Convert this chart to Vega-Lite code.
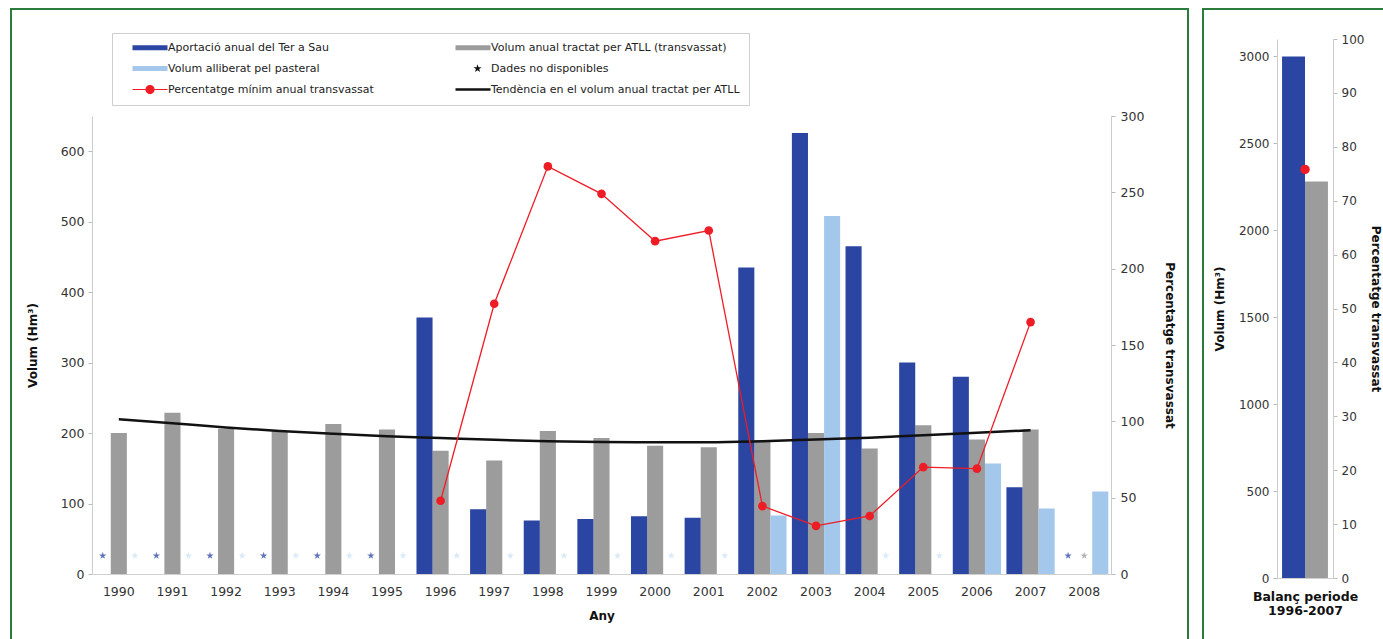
{
  "$schema": "https://vega.github.io/schema/vega-lite/v6.json",
  "padding": {"left": 10, "top": 8, "right": 0, "bottom": 0},
  "background": "white",
  "config": {
    "font": "DejaVu Sans",
    "view": {"stroke": "#2b7b3d", "strokeWidth": 2, "fill": "white"},
    "axis": {
      "labelFont": "DejaVu Sans",
      "labelFontSize": 12.5,
      "labelColor": "#333333",
      "titleFont": "DejaVu Sans",
      "titleFontWeight": "bold",
      "titleFontSize": 12,
      "titleColor": "#111111",
      "domainColor": "#cccccc",
      "tickColor": "#bbbbbb",
      "tickSize": 4,
      "grid": false
    }
  },
  "datasets": {
    "anual": [
      {"any": "1990", "serie": "Volum anual tractat per ATLL (transvassat)", "volum": 200},
      {"any": "1991", "serie": "Volum anual tractat per ATLL (transvassat)", "volum": 229},
      {"any": "1992", "serie": "Volum anual tractat per ATLL (transvassat)", "volum": 206},
      {"any": "1993", "serie": "Volum anual tractat per ATLL (transvassat)", "volum": 203},
      {"any": "1994", "serie": "Volum anual tractat per ATLL (transvassat)", "volum": 213},
      {"any": "1995", "serie": "Volum anual tractat per ATLL (transvassat)", "volum": 205},
      {"any": "1996", "serie": "Volum anual tractat per ATLL (transvassat)", "volum": 175},
      {"any": "1997", "serie": "Volum anual tractat per ATLL (transvassat)", "volum": 161},
      {"any": "1998", "serie": "Volum anual tractat per ATLL (transvassat)", "volum": 203},
      {"any": "1999", "serie": "Volum anual tractat per ATLL (transvassat)", "volum": 193},
      {"any": "2000", "serie": "Volum anual tractat per ATLL (transvassat)", "volum": 182},
      {"any": "2001", "serie": "Volum anual tractat per ATLL (transvassat)", "volum": 180},
      {"any": "2002", "serie": "Volum anual tractat per ATLL (transvassat)", "volum": 190},
      {"any": "2003", "serie": "Volum anual tractat per ATLL (transvassat)", "volum": 200},
      {"any": "2004", "serie": "Volum anual tractat per ATLL (transvassat)", "volum": 178},
      {"any": "2005", "serie": "Volum anual tractat per ATLL (transvassat)", "volum": 211},
      {"any": "2006", "serie": "Volum anual tractat per ATLL (transvassat)", "volum": 191},
      {"any": "2007", "serie": "Volum anual tractat per ATLL (transvassat)", "volum": 205},
      {"any": "1996", "serie": "Aportació anual del Ter a Sau", "volum": 364},
      {"any": "1997", "serie": "Aportació anual del Ter a Sau", "volum": 92},
      {"any": "1998", "serie": "Aportació anual del Ter a Sau", "volum": 76},
      {"any": "1999", "serie": "Aportació anual del Ter a Sau", "volum": 78},
      {"any": "2000", "serie": "Aportació anual del Ter a Sau", "volum": 82},
      {"any": "2001", "serie": "Aportació anual del Ter a Sau", "volum": 80},
      {"any": "2002", "serie": "Aportació anual del Ter a Sau", "volum": 435},
      {"any": "2003", "serie": "Aportació anual del Ter a Sau", "volum": 626},
      {"any": "2004", "serie": "Aportació anual del Ter a Sau", "volum": 465},
      {"any": "2005", "serie": "Aportació anual del Ter a Sau", "volum": 300},
      {"any": "2006", "serie": "Aportació anual del Ter a Sau", "volum": 280},
      {"any": "2007", "serie": "Aportació anual del Ter a Sau", "volum": 123},
      {"any": "2002", "serie": "Volum alliberat pel pasteral", "volum": 83},
      {"any": "2003", "serie": "Volum alliberat pel pasteral", "volum": 508},
      {"any": "2006", "serie": "Volum alliberat pel pasteral", "volum": 157},
      {"any": "2007", "serie": "Volum alliberat pel pasteral", "volum": 93},
      {"any": "2008", "serie": "Volum alliberat pel pasteral", "volum": 117}
    ],
    "sense_dades": [
      {"any": "1990", "serie": "Aportació anual del Ter a Sau"},
      {"any": "1991", "serie": "Aportació anual del Ter a Sau"},
      {"any": "1992", "serie": "Aportació anual del Ter a Sau"},
      {"any": "1993", "serie": "Aportació anual del Ter a Sau"},
      {"any": "1994", "serie": "Aportació anual del Ter a Sau"},
      {"any": "1995", "serie": "Aportació anual del Ter a Sau"},
      {"any": "2008", "serie": "Aportació anual del Ter a Sau"},
      {"any": "2008", "serie": "Volum anual tractat per ATLL (transvassat)"},
      {"any": "1990", "serie": "Volum alliberat pel pasteral"},
      {"any": "1991", "serie": "Volum alliberat pel pasteral"},
      {"any": "1992", "serie": "Volum alliberat pel pasteral"},
      {"any": "1993", "serie": "Volum alliberat pel pasteral"},
      {"any": "1994", "serie": "Volum alliberat pel pasteral"},
      {"any": "1995", "serie": "Volum alliberat pel pasteral"},
      {"any": "1996", "serie": "Volum alliberat pel pasteral"},
      {"any": "1997", "serie": "Volum alliberat pel pasteral"},
      {"any": "1998", "serie": "Volum alliberat pel pasteral"},
      {"any": "1999", "serie": "Volum alliberat pel pasteral"},
      {"any": "2000", "serie": "Volum alliberat pel pasteral"},
      {"any": "2001", "serie": "Volum alliberat pel pasteral"},
      {"any": "2004", "serie": "Volum alliberat pel pasteral"},
      {"any": "2005", "serie": "Volum alliberat pel pasteral"}
    ],
    "tendencia": [
      {"any": "1990", "volum": 219.5},
      {"any": "1991", "volum": 214},
      {"any": "1992", "volum": 208},
      {"any": "1993", "volum": 203},
      {"any": "1994", "volum": 199},
      {"any": "1995", "volum": 195.5},
      {"any": "1996", "volum": 193},
      {"any": "1997", "volum": 190.5},
      {"any": "1998", "volum": 188.5},
      {"any": "1999", "volum": 187.5},
      {"any": "2000", "volum": 187},
      {"any": "2001", "volum": 187},
      {"any": "2002", "volum": 188.5},
      {"any": "2003", "volum": 191},
      {"any": "2004", "volum": 193.5},
      {"any": "2005", "volum": 197},
      {"any": "2006", "volum": 200.5},
      {"any": "2007", "volum": 204}
    ],
    "percentatge": [
      {"any": "1996", "pct": 48},
      {"any": "1997", "pct": 177},
      {"any": "1998", "pct": 267},
      {"any": "1999", "pct": 249},
      {"any": "2000", "pct": 218},
      {"any": "2001", "pct": 225},
      {"any": "2002", "pct": 44.5},
      {"any": "2003", "pct": 31.5},
      {"any": "2004", "pct": 38},
      {"any": "2005", "pct": 70},
      {"any": "2006", "pct": 69},
      {"any": "2007", "pct": 165}
    ],
    "balanc": [
      {"periode": "1996-2007", "serie": "Aportació anual del Ter a Sau", "volum": 3000},
      {"periode": "1996-2007", "serie": "Volum anual tractat per ATLL (transvassat)", "volum": 2280}
    ],
    "balanc_pct": [
      {"periode": "1996-2007", "pct": 75.8}
    ]
  },
  "spacing": 13,
  "resolve": {"scale": {"x": "independent", "xOffset": "independent", "y": "independent"}},
  "hconcat": [
    {
      "width": 1177,
      "height": 640,
      "layer": [
        {
          "layer": [
            {
              "data": {"name": "anual"},
              "mark": {"type": "bar"},
              "encoding": {
                "x": {
                  "field": "any",
                  "type": "ordinal",
                  "scale": {
                    "domain": ["1990", "1991", "1992", "1993", "1994", "1995", "1996", "1997", "1998", "1999", "2000", "2001", "2002", "2003", "2004", "2005", "2006", "2007", "2008"],
                    "range": [81, 1100],
                    "paddingInner": 0.1,
                    "paddingOuter": 0.05
                  },
                  "axis": {
                    "title": "Any",
                    "orient": "bottom",
                    "offset": -75,
                    "labelAngle": 0,
                    "ticks": false,
                    "labelPadding": 11,
                    "titlePadding": 13,
                    "domainColor": "#d0d0d0"
                  }
                },
                "xOffset": {
                  "field": "serie",
                  "type": "nominal",
                  "scale": {
                    "domain": ["Aportació anual del Ter a Sau", "Volum anual tractat per ATLL (transvassat)", "Volum alliberat pel pasteral"],
                    "paddingInner": 0,
                    "paddingOuter": 0
                  }
                },
                "y": {
                  "field": "volum",
                  "type": "quantitative",
                  "scale": {"domain": [0, 650], "range": [565, 107], "nice": false},
                  "axis": {
                    "title": "Volum (Hm³)",
                    "orient": "left",
                    "offset": -81,
                    "values": [0, 100, 200, 300, 400, 500, 600],
                    "labelPadding": 4,
                    "titlePadding": 21
                  }
                },
                "color": {
                  "field": "serie",
                  "type": "nominal",
                  "scale": {
                    "domain": [
                      "Aportació anual del Ter a Sau",
                      "Volum alliberat pel pasteral",
                      "Percentatge mínim anual transvassat",
                      "Volum anual tractat per ATLL (transvassat)",
                      "Dades no disponibles",
                      "Tendència en el volum anual tractat per ATLL"
                    ],
                    "range": ["#2b45a3", "#a3c8ec", "#ee1c25", "#9c9c9c", "#111111", "#111111"]
                  },
                  "legend": {
                    "orient": "none",
                    "legendX": 101,
                    "legendY": 24,
                    "columns": 2,
                    "title": null,
                    "symbolSize": 1225,
                    "symbolOffset": 23.5,
                    "labelFont": "DejaVu Sans",
                    "labelFontSize": 11,
                    "labelColor": "#222222",
                    "labelOffset": 12.5,
                    "labelLimit": 400,
                    "columnPadding": 70,
                    "rowPadding": 8,
                    "padding": 9,
                    "strokeColor": "#cfcfcf",
                    "fillColor": "white",
                    "encode": {
                      "symbols": {
                        "update": {
                          "shape": {"signal": "datum.index == 4 ? 'M0.26,-0.25L0.316,-0.077L0.498,-0.077L0.351,0.03L0.407,0.202L0.26,0.096L0.113,0.202L0.169,0.03L0.022,-0.077L0.204,-0.077Z' : datum.index == 2 ? 'M-1,0H1M-0.23,0A0.23,0.23 0 1,0 0.23,0A0.23,0.23 0 1,0 -0.23,0Z' : datum.index == 5 ? 'M-1,0H1' : 'M-1,-0.14H1V0.14H-1Z'"},
                          "fill": {"signal": "datum.index == 5 ? 'transparent' : scale('color', datum.value)"},
                          "stroke": {"signal": "datum.index == 2 || datum.index == 5 ? scale('color', datum.value) : 'transparent'"},
                          "strokeWidth": {"signal": "datum.index == 5 ? 2.5 : 1.2"},
                          "opacity": {"value": 1}
                        }
                      }
                    }
                  }
                }
              }
            },
            {
              "data": {"name": "sense_dades"},
              "transform": [{"filter": "datum.serie !== 'Volum alliberat pel pasteral'"}],
              "mark": {
                "type": "point",
                "shape": "M0,-1L0.2245,-0.309L0.951,-0.309L0.363,0.118L0.588,0.809L0,0.382L-0.588,0.809L-0.363,0.118L-0.951,-0.309L-0.2245,-0.309Z",
                "filled": true,
                "size": 60,
                "opacity": 0.75
              },
              "encoding": {
                "x": {"field": "any", "type": "ordinal"},
                "xOffset": {"field": "serie", "type": "nominal"},
                "y": {"datum": 26, "type": "quantitative"},
                "color": {"field": "serie", "type": "nominal"}
              }
            },
            {
              "data": {"name": "sense_dades"},
              "transform": [{"filter": "datum.serie === 'Volum alliberat pel pasteral'"}],
              "mark": {
                "type": "point",
                "shape": "M0,-1L0.2245,-0.309L0.951,-0.309L0.363,0.118L0.588,0.809L0,0.382L-0.588,0.809L-0.363,0.118L-0.951,-0.309L-0.2245,-0.309Z",
                "filled": true,
                "size": 60,
                "opacity": 0.4
              },
              "encoding": {
                "x": {"field": "any", "type": "ordinal"},
                "xOffset": {"field": "serie", "type": "nominal"},
                "y": {"datum": 26, "type": "quantitative"},
                "color": {"field": "serie", "type": "nominal"}
              }
            },
            {
              "data": {"name": "tendencia"},
              "mark": {"type": "line", "color": "#111111", "strokeWidth": 2.5, "interpolate": "monotone"},
              "encoding": {
                "x": {"field": "any", "type": "ordinal"},
                "y": {"field": "volum", "type": "quantitative"}
              }
            }
          ]
        },
        {
          "data": {"name": "percentatge"},
          "mark": {
            "type": "line",
            "color": "#ee1c25",
            "strokeWidth": 1.3,
            "point": {"filled": true, "size": 75, "color": "#ee1c25", "opacity": 1}
          },
          "encoding": {
            "x": {"field": "any", "type": "ordinal"},
            "y": {
              "field": "pct",
              "type": "quantitative",
              "scale": {"domain": [0, 300], "range": [565, 107], "nice": false},
              "axis": {
                "title": "Percentatge transvassat",
                "orient": "right",
                "offset": -77,
                "values": [0, 50, 100, 150, 200, 250, 300],
                "labelPadding": 5,
                "titlePadding": 19
              }
            }
          }
        }
      ],
      "resolve": {"scale": {"y": "independent"}}
    },
    {
      "width": 190,
      "height": 640,
      "layer": [
        {
          "data": {"name": "balanc"},
          "mark": {"type": "bar"},
          "encoding": {
            "x": {
              "field": "periode",
              "type": "nominal",
              "scale": {"range": [74, 130], "paddingInner": 0, "paddingOuter": 0.11},
              "axis": {
                "title": ["Balanç periode", "1996-2007"],
                "labels": false,
                "ticks": false,
                "orient": "bottom",
                "offset": -71,
                "titlePadding": 12,
                "titleFontSize": 12.5,
                "domainColor": "#d0d0d0"
              }
            },
            "xOffset": {
              "field": "serie",
              "type": "nominal",
              "scale": {
                "domain": ["Aportació anual del Ter a Sau", "Volum anual tractat per ATLL (transvassat)"],
                "paddingInner": 0,
                "paddingOuter": 0
              }
            },
            "y": {
              "field": "volum",
              "type": "quantitative",
              "scale": {"domain": [0, 3100], "range": [569, 30], "nice": false},
              "axis": {
                "title": "Volum (Hm³)",
                "orient": "left",
                "offset": -74,
                "values": [0, 500, 1000, 1500, 2000, 2500, 3000],
                "format": "d",
                "labelFontSize": 12,
                "labelPadding": 4,
                "titlePadding": 12
              }
            },
            "color": {"field": "serie", "type": "nominal"}
          }
        },
        {
          "data": {"name": "balanc_pct"},
          "mark": {"type": "point", "filled": true, "size": 90, "color": "#ee1c25", "opacity": 1},
          "encoding": {
            "x": {"field": "periode", "type": "nominal"},
            "y": {
              "field": "pct",
              "type": "quantitative",
              "scale": {"domain": [0, 100], "range": [569, 30], "nice": false},
              "axis": {
                "title": "Percentatge transvassat",
                "orient": "right",
                "offset": -60,
                "values": [0, 10, 20, 30, 40, 50, 60, 70, 80, 90, 100],
                "labelFontSize": 12,
                "labelPadding": 4,
                "titlePadding": 5
              }
            }
          }
        }
      ],
      "resolve": {"scale": {"y": "independent"}}
    }
  ]
}
